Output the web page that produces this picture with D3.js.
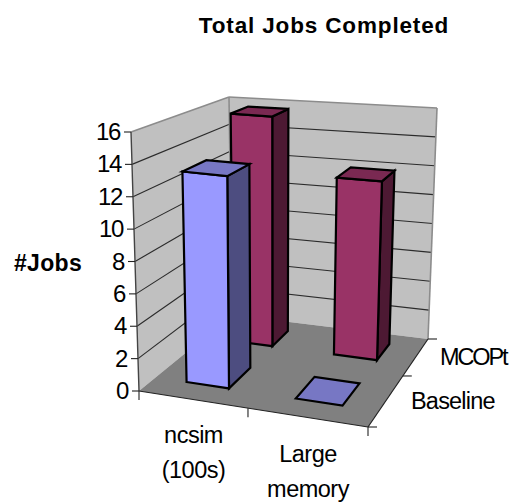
<!DOCTYPE html>
<html>
<head>
<meta charset="utf-8">
<title>Total Jobs Completed</title>
<script src="https://cdn.jsdelivr.net/npm/d3@7"></script>
<style>
  html, body { margin: 0; padding: 0; background: #fff; }
  svg { display: block; }
  text { font-family: "Liberation Sans", Arial, sans-serif; fill: #000; }
</style>
</head>
<body>
<svg id="chart" width="510" height="502"></svg>
<script>
const categories = ["ncsim (100s)", "Large memory"];
const categoryLines = [["ncsim", "(100s)"], ["Large", "memory"]];
const seriesNames = ["Baseline", "MCOPt"];
const baselineValues = [13.3, 0];
const mcoptValues = [15.7, 11.9];
const valueTicks = [0, 2, 4, 6, 8, 10, 12, 14, 16];

const svg = d3.select("#chart");

// Screen positions of the eight corners of the 3D plot box: [x, y].
const box = {
  floorFrontLeft: [139, 391], floorFrontRight: [368, 427],
  floorBackLeft: [232, 315], floorBackRight: [428, 339],
  topFrontLeft: [131, 132], topFrontRight: [376, 157],
  topBackLeft: [229, 97], topBackRight: [437, 108]
};

// One-dimensional perspective foreshortening along an axis.
const foreshorten = k => t => k * t / (1 + (k - 1) * t);
const warpU = foreshorten(0.908), warpV = foreshorten(1.38);

const mix = (a, b, t) => [a[0] + (b[0] - a[0]) * t, a[1] + (b[1] - a[1]) * t];

// Map unit box coordinates (u across, v into depth, w upward) to the screen.
function project(u, v, w) {
  const U = warpU(u), V = warpV(v);
  const floor = mix(
    mix(box.floorFrontLeft, box.floorFrontRight, U),
    mix(box.floorBackLeft, box.floorBackRight, U), V);
  const top = mix(
    mix(box.topFrontLeft, box.topFrontRight, U),
    mix(box.topBackLeft, box.topBackRight, U), V);
  return mix(floor, top, w);
}

const xBand = d3.scaleBand().domain(categories).range([0, 1]).paddingInner(0.6).paddingOuter(0.3);
const zBand = d3.scaleBand().domain(seriesNames).range([0, 1]).paddingInner(0.55).paddingOuter(0.275);
const yScale = d3.scaleLinear().domain([0, 16]).range([0, 1]);

const polyPath = pts => d3.line()(pts) + "Z";
const plane = (pts, fill, stroke, sw) => svg.append("path")
  .attr("d", polyPath(pts)).attr("fill", fill)
  .attr("stroke", stroke).attr("stroke-width", sw).attr("stroke-linejoin", "miter");
const seg = (a, b, stroke, sw) => svg.append("line")
  .attr("x1", a[0]).attr("y1", a[1]).attr("x2", b[0]).attr("y2", b[1])
  .attr("stroke", stroke).attr("stroke-width", sw);

// Walls and floor
plane([project(0,0,0), project(0,1,0), project(0,1,1), project(0,0,1)], "#c0c0c0", "none", 0);
plane([project(0,1,0), project(1,1,0), project(1,1,1), project(0,1,1)], "#c0c0c0", "none", 0);
plane([project(0,0,0), project(1,0,0), project(1,1,0), project(0,1,0)], "#808080", "none", 0);

// Gridlines across both walls
valueTicks.slice(1, -1).forEach(t => {
  const w = yScale(t);
  seg(project(0,0,w), project(0,1,w), "#2b2b2b", 1.1);
  seg(project(0,1,w), project(1,1,w), "#2b2b2b", 1.1);
});

// Wall outlines
const edge = "#8c8c8c";
seg(project(0,0,1), project(0,1,1), edge, 1.6);
seg(project(0,1,1), project(1,1,1), edge, 1.6);
seg(project(1,1,1), project(1,1,0), edge, 1.6);
seg(project(0,1,0), project(0,1,1), edge, 1.6);

// Axis lines and their tick marks
const axisColor = "#222";
seg(project(0,0,0), project(0,0,1), "#444", 1.4);
seg(project(0,0,0), project(1,0,0), axisColor, 1.2);
seg(project(1,0,0), project(1,1,0), axisColor, 1.2);
valueTicks.forEach(t => {
  const p = project(0,0,yScale(t));
  seg(p, [p[0] - 7, p[1]], axisColor, 1.1);
  svg.append("text").attr("x", p[0] - 11).attr("y", p[1] + 8)
    .attr("text-anchor", "end").attr("font-size", 24).attr("letter-spacing", -1.4).text(t);
});
[0, 0.5, 1].forEach(u => {
  const p = project(u,0,0);
  seg(p, [p[0], p[1] + 9], axisColor, 1.1);
});
[0, 0.5, 1].forEach(v => {
  const p = project(1,v,0);
  seg(p, [p[0] + 9, p[1]], axisColor, 1.1);
});

// 3D bars, furthest series first
const palette = {
  Baseline: { front: "#9999ff", side: "#4d4d80", top: "#7777c4" },
  MCOPt: { front: "#993366", side: "#4d1933", top: "#7a2952" }
};
const seriesValues = { Baseline: baselineValues, MCOPt: mcoptValues };

[...seriesNames].reverse().forEach(name => {
  categories.forEach((cat, i) => {
    const value = seriesValues[name][i];
    const u0 = xBand(cat), u1 = u0 + xBand.bandwidth();
    const v0 = zBand(name), v1 = v0 + zBand.bandwidth();
    const w = yScale(value);
    const c = palette[name];
    if (value > 0) {
      plane([project(u1,v0,0), project(u1,v1,0), project(u1,v1,w), project(u1,v0,w)], c.side, "#000", 2.2);
      plane([project(u0,v0,0), project(u1,v0,0), project(u1,v0,w), project(u0,v0,w)], c.front, "#000", 2.2);
    }
    plane([project(u0,v0,w), project(u1,v0,w), project(u1,v1,w), project(u0,v1,w)], c.top, "#000", 2.2);
  });
});

// Text
svg.append("text").attr("x", 324).attr("y", 33).attr("text-anchor", "middle")
  .attr("font-size", 22.5).attr("font-weight", "bold").attr("letter-spacing", 0.85).text("Total Jobs Completed");
svg.append("text").attr("x", 48).attr("y", 271).attr("text-anchor", "middle")
  .attr("font-size", 23).attr("font-weight", "bold").attr("letter-spacing", 0.3).text("#Jobs");

const catLabelPos = [[193.5, 443, 478], [308, 462, 497]];
categoryLines.forEach((lines, i) => {
  lines.forEach((line, j) => {
    svg.append("text").attr("x", catLabelPos[i][0]).attr("y", catLabelPos[i][j + 1])
      .attr("text-anchor", "middle").attr("font-size", 23.5).attr("letter-spacing", -0.5).text(line);
  });
});
svg.append("text").attr("x", 411).attr("y", 409).attr("font-size", 23.5).attr("letter-spacing", -0.8).text("Baseline");
svg.append("text").attr("x", 440).attr("y", 365).attr("font-size", 23.5).attr("letter-spacing", -2.1).text("MCOPt");
</script>
</body>
</html>
